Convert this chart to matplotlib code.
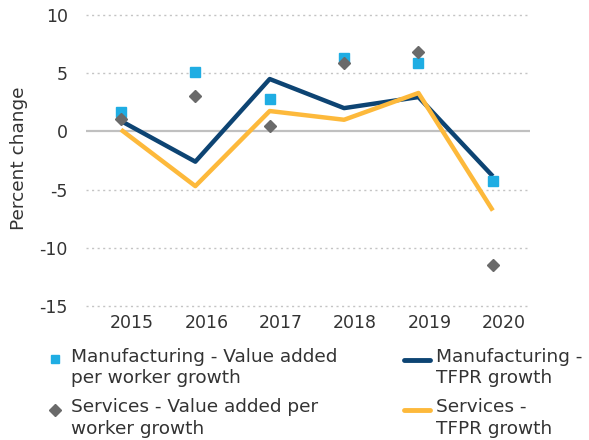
import matplotlib
matplotlib.use("Agg")
import matplotlib.pyplot as plt
import matplotlib.transforms as mtransforms
from matplotlib.lines import Line2D

years = ["2015", "2016", "2017", "2018", "2019", "2020"]
mfg_va = [1.7, 5.1, 2.8, 6.3, 5.85, -4.3]
srv_va = [1.1, 3.0, 0.45, 5.85, 6.8, -11.45]
mfg_tfpr = [0.9, -2.6, 4.5, 2.0, 2.95, -3.85]
srv_tfpr = [0.15, -4.7, 1.75, 1.0, 3.3, -6.8]
yticks = [10, 5, 0, -5, -10, -15]

C_SQ = "#1fade3"
C_DI = "#6a6a6a"
C_NAVY = "#0d4473"
C_YEL = "#fdb93b"
C_TXT = "#333333"

plt.rcParams['font.family'] = ['DejaVu Sans']
fig = plt.figure(figsize=(5.89, 4.40), dpi=100)
ax = fig.add_axes([86/589, 1-306/440, (530-86)/589, (306-15)/440])

x = list(range(len(years)))
for y in yticks:
    if y == 0:
        ax.axhline(0, color="#c0c0c0", lw=1.6, zorder=1)
    else:
        ax.axhline(y, color="#c4c4c4", lw=1.0, ls=(0, (1.5, 2.5)), zorder=0, clip_on=False)

ax.plot(x, mfg_tfpr, color=C_NAVY, lw=3.2, zorder=3, solid_capstyle='butt')
ax.plot(x, srv_tfpr, color=C_YEL, lw=3.2, zorder=3, solid_capstyle='butt')
ax.plot(x, mfg_va, ls='none', marker='s', ms=7, color=C_SQ, zorder=4)
ax.plot(x, srv_va, ls='none', marker='D', ms=6.5, color=C_DI, zorder=5)

ax.set_xlim(-0.47, 5.5)
ax.set_ylim(-15, 10)
ax.set_yticks(yticks)
ax.set_yticklabels([str(v) for v in yticks])
ax.set_xticks(x)
ax.set_xticklabels(years)
ax.tick_params(length=0, labelsize=12.5, colors=C_TXT, pad=13)
ax.tick_params(axis='x', pad=6)
offset = mtransforms.ScaledTranslation(11/100, 0, fig.dpi_scale_trans)
for lab in ax.get_xticklabels():
    lab.set_transform(lab.get_transform() + offset)
for s in ax.spines.values():
    s.set_visible(False)
fig.text(19/589, 1-158/440, "Percent change", rotation=90, fontsize=13.3, color=C_TXT, ha='center', va='center')

def fy(py):
    return 1 - py/440
def fx(px):
    return px/589

fig.add_artist(Line2D([fx(54.5)], [fy(359)], marker='s', ms=6, color=C_SQ, ls='none'))
fig.add_artist(Line2D([fx(54.5)], [fy(410)], marker='D', ms=6, color=C_DI, ls='none'))
fig.add_artist(Line2D([fx(404), fx(430)], [fy(360), fy(360)], color=C_NAVY, lw=3.5, solid_capstyle='round'))
fig.add_artist(Line2D([fx(404), fx(430)], [fy(410), fy(410)], color=C_YEL, lw=3.5, solid_capstyle='round'))

kw = dict(fontsize=13.3, color=C_TXT, ha='left', va='center', linespacing=1.22)
fig.text(fx(71), fy(367.5), "Manufacturing - Value added\nper worker growth", **kw)
fig.text(fx(71), fy(418), "Services - Value added per\nworker growth", **kw)
fig.text(fx(436), fy(367.5), "Manufacturing -\nTFPR growth", **kw)
fig.text(fx(436), fy(418), "Services -\nTFPR growth", **kw)

fig.savefig("out.png", dpi=100)
